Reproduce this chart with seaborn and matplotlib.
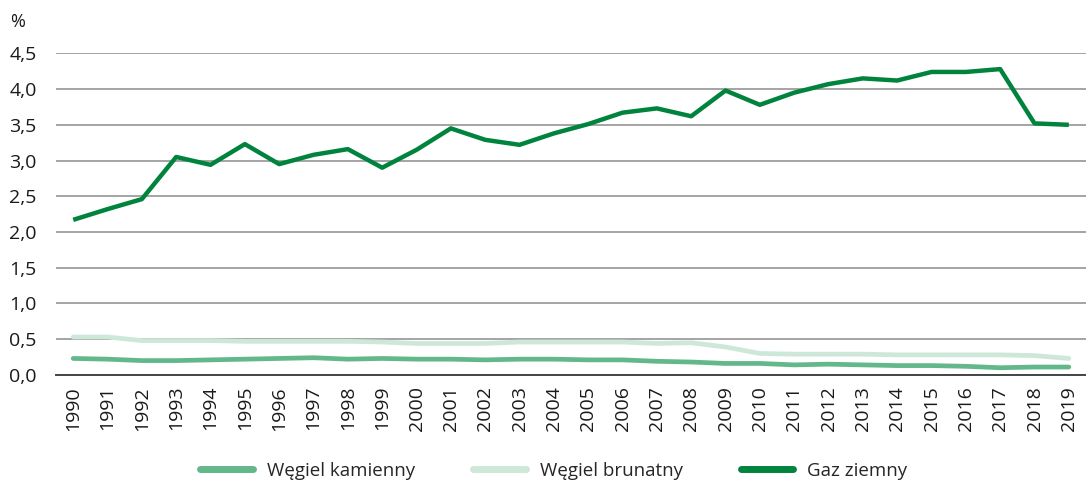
import pandas as pd
import matplotlib.pyplot as plt
import seaborn as sns
from matplotlib.ticker import MultipleLocator, FuncFormatter

years = list(range(1990, 2020))

kamienny = [0.23, 0.22, 0.20, 0.20, 0.21, 0.22, 0.23, 0.24, 0.22, 0.23,
            0.22, 0.22, 0.21, 0.22, 0.22, 0.21, 0.21, 0.19, 0.18, 0.16,
            0.16, 0.14, 0.15, 0.14, 0.13, 0.13, 0.12, 0.10, 0.11, 0.11]
brunatny = [0.53, 0.53, 0.48, 0.48, 0.48, 0.47, 0.47, 0.47, 0.47, 0.46,
            0.44, 0.44, 0.44, 0.46, 0.46, 0.46, 0.46, 0.44, 0.45, 0.39,
            0.30, 0.29, 0.29, 0.29, 0.28, 0.28, 0.28, 0.28, 0.27, 0.23]
gaz = [2.17, 2.32, 2.46, 3.05, 2.94, 3.23, 2.95, 3.08, 3.16, 2.90,
       3.15, 3.45, 3.29, 3.22, 3.38, 3.51, 3.67, 3.73, 3.62, 3.98,
       3.78, 3.95, 4.07, 4.15, 4.12, 4.24, 4.24, 4.28, 3.52, 3.50]

names = ["Węgiel kamienny", "Węgiel brunatny", "Gaz ziemny"]
colors = ["#62b88b", "#cde8d9", "#00843d"]

df = pd.DataFrame({
    "rok": years * 3,
    "wartosc": kamienny + brunatny + gaz,
    "paliwo": [names[0]] * 30 + [names[1]] * 30 + [names[2]] * 30,
})

sns.set_style("white")
plt.rcParams["font.family"] = ["Open Sans", "DejaVu Sans"]

fig = plt.figure(figsize=(10.86, 4.8), dpi=100)
ax = fig.add_axes([0.0516, 0.219, 0.9484, 0.6698])

sns.lineplot(data=df, x="rok", y="wartosc", hue="paliwo", palette=colors,
             hue_order=names, linewidth=3.4, ax=ax, legend=False,
             solid_capstyle="round")
ax.lines[2].set_linewidth(3.2)
ax.lines[2].set_solid_capstyle("butt")

ax.set_xlim(1989.5, 2019.5)
ax.set_ylim(0, 4.5)
ax.yaxis.set_major_locator(MultipleLocator(0.5))
ax.yaxis.set_major_formatter(FuncFormatter(lambda v, p: f"{v:.1f}".replace(".", ",")))
ax.set_xticks(years)
ax.set_xticklabels([str(y) for y in years], rotation=90)
ax.set_xticks([y - 0.5 for y in years] + [2019.5], minor=True)
ax.tick_params(axis="x", which="major", length=0, pad=8, labelsize=14, colors="#1a1a1a")
ax.tick_params(axis="x", which="minor", length=9, width=1.2, color="#444444", direction="out")
ax.tick_params(axis="y", length=0, pad=14, labelsize=14, colors="#1a1a1a")

ax.grid(axis="y", color="#8c8c8c", linewidth=1.1)
ax.grid(axis="x", visible=False)
for s in ["top", "right", "left"]:
    ax.spines[s].set_visible(False)
ax.spines["bottom"].set_color("#444444")
ax.spines["bottom"].set_linewidth(1.4)
ax.set_xlabel("")
ax.set_ylabel("")
ax.set_axisbelow(True)

fig.text(0.009, 0.955, "%", fontsize=13, color="#1a1a1a", va="center")

handles = [plt.Line2D([], [], color=c, linewidth=5) for c in colors]
fig.legend(handles, names, loc="lower center", bbox_to_anchor=(0.51, -0.035), ncol=3,
           frameon=False, fontsize=13.5, handlelength=2.8, columnspacing=3.1,
           handletextpad=0.75)

fig.savefig("out.png", dpi=100)
